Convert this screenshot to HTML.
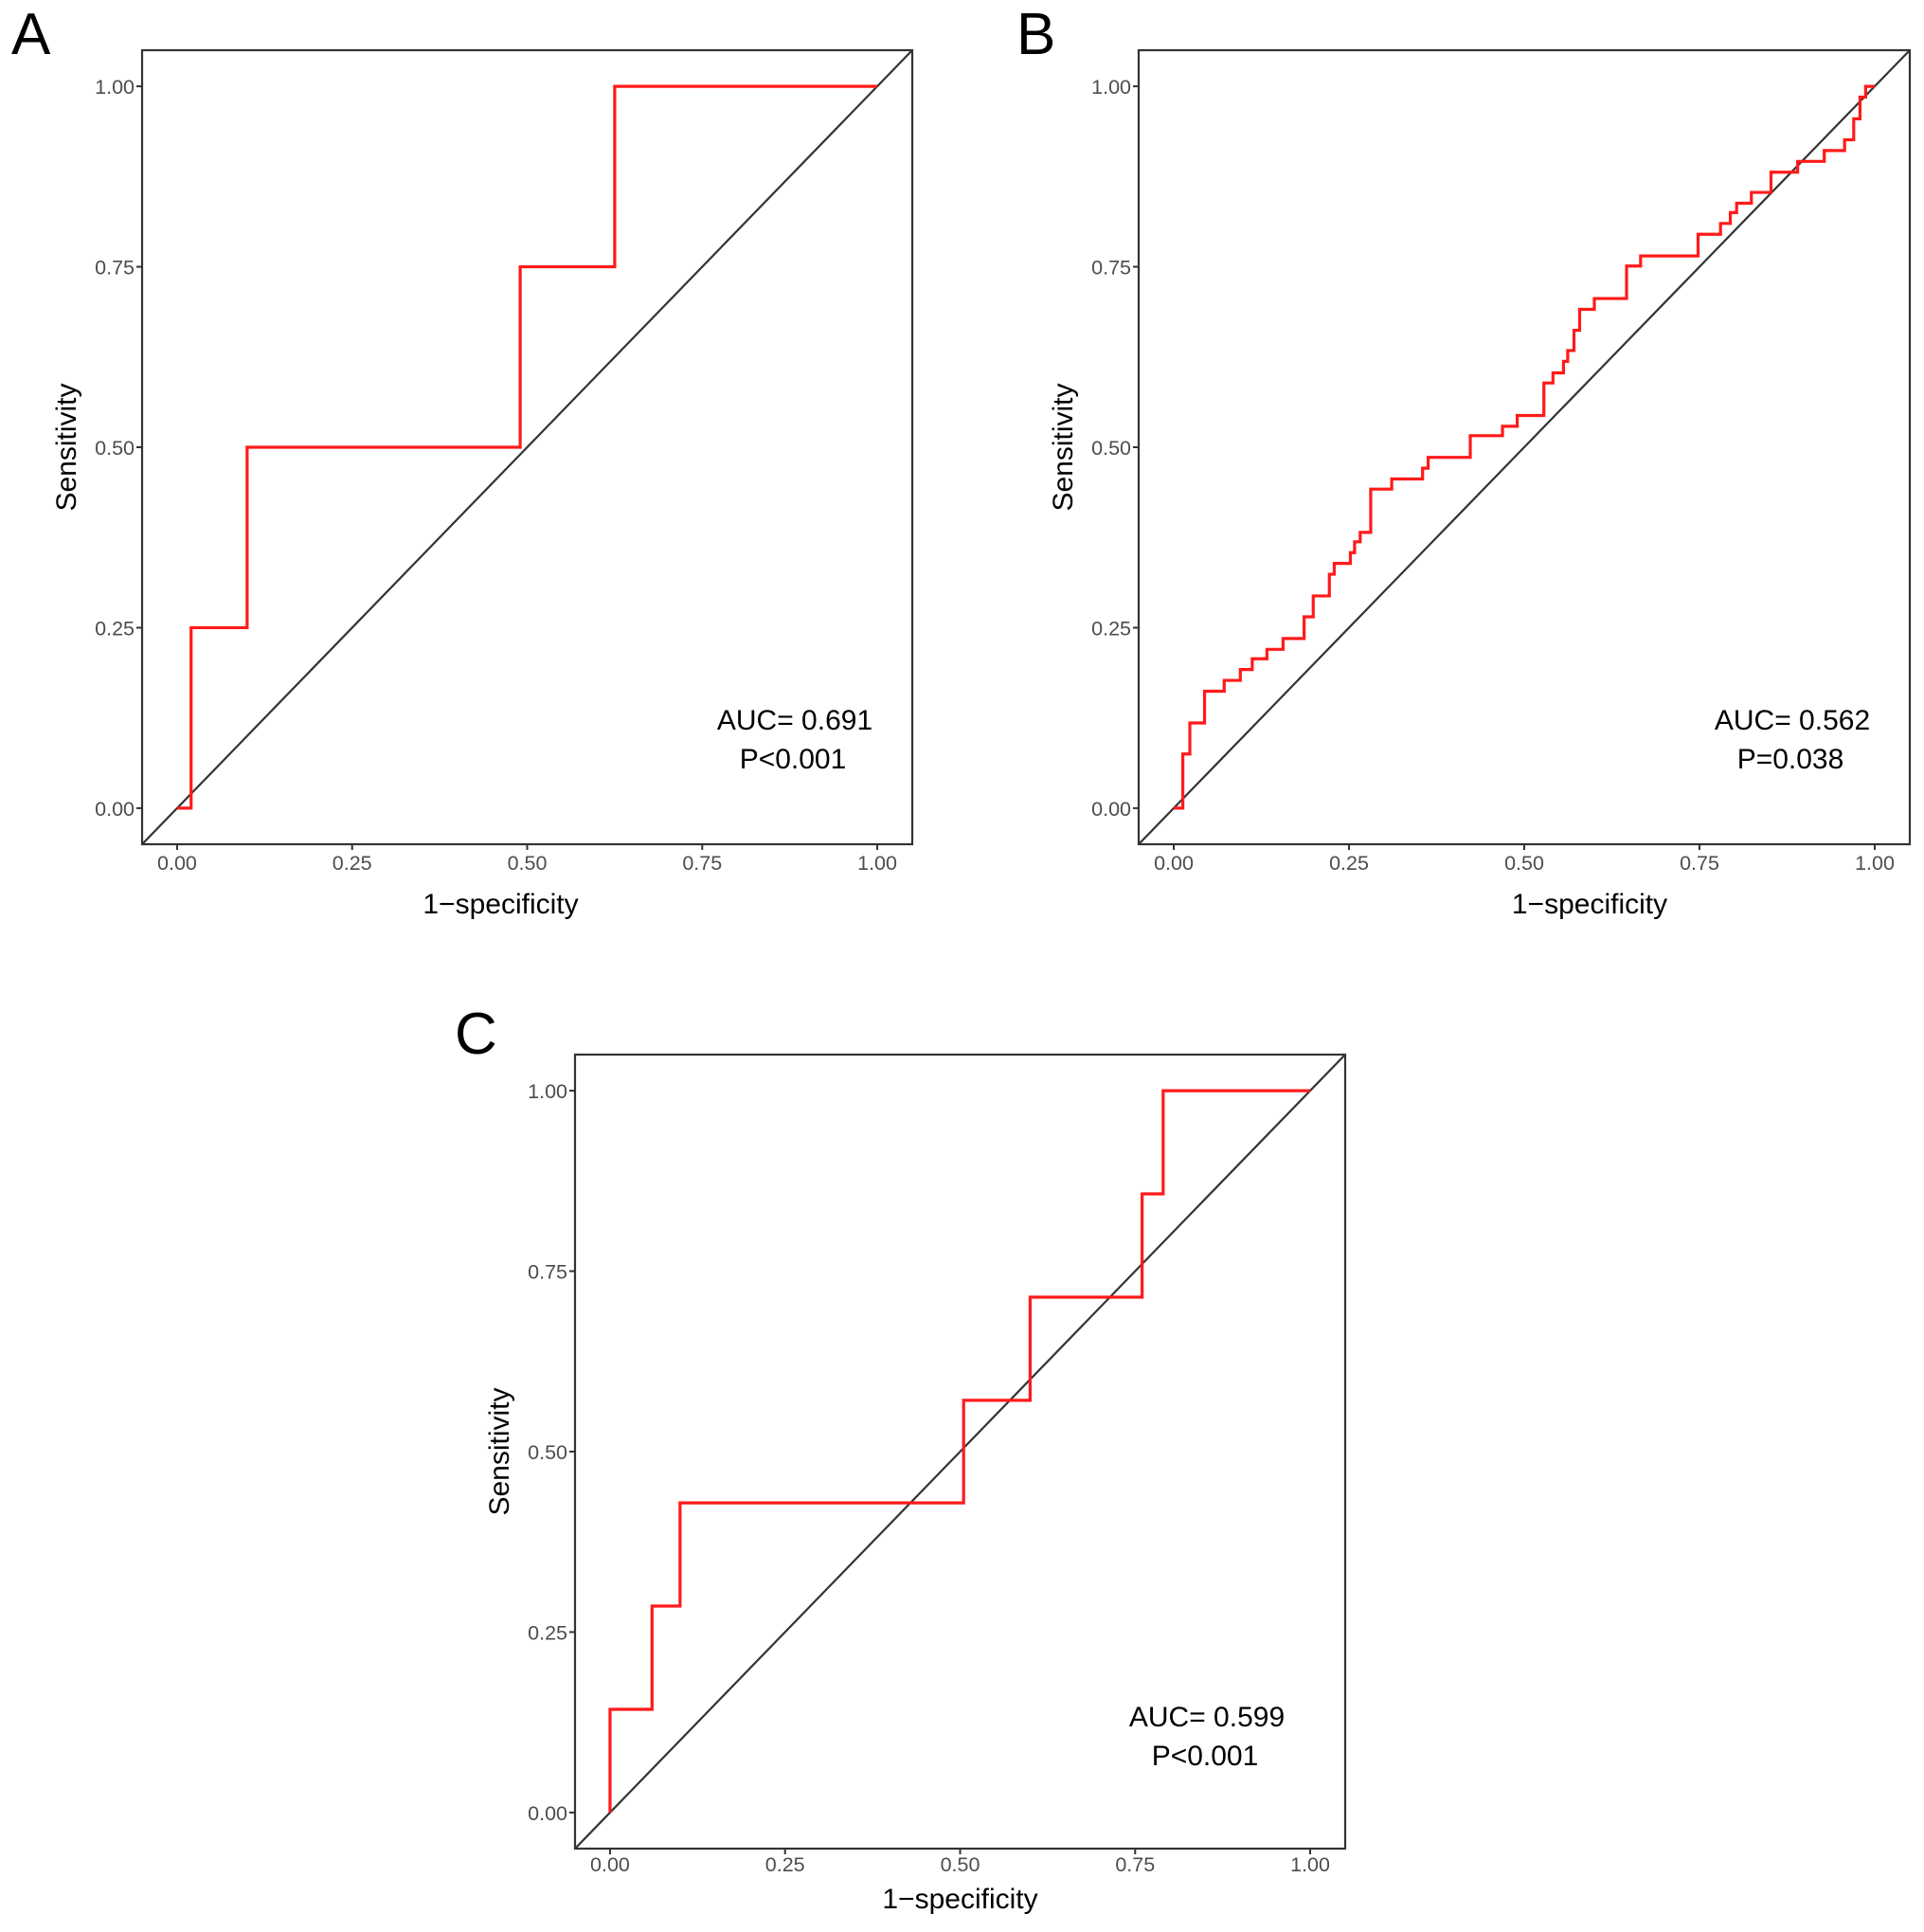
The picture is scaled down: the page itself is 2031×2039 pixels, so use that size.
<!DOCTYPE html>
<html><head><meta charset="utf-8"><style>
html,body{margin:0;padding:0;background:#fff;}
svg{display:block;font-family:"Liberation Sans",Arial,sans-serif;}
</style></head><body>
<svg id="fig" width="2031" height="2039" viewBox="0 0 2031 2039" xmlns="http://www.w3.org/2000/svg"></svg>
<script>
const ticks = [0, 0.25, 0.5, 0.75, 1];
const tickLabels = ["0.00", "0.25", "0.50", "0.75", "1.00"];
const aStepX = [0.02, 0.10, 0.49, 0.625];
const aStepY = [0.25, 0.50, 0.75, 1.00];
const bStepX = [0.013,0.023,0.044,0.072,0.095,0.112,0.133,0.156,0.186,0.199,0.222,0.229,0.252,0.258,0.266,0.281,0.311,0.355,0.363,0.423,0.469,0.490,0.528,0.541,0.556,0.562,0.571,0.579,0.600,0.646,0.666,0.748,0.780,0.794,0.803,0.824,0.852,0.890,0.928,0.957,0.970,0.979,0.987];
const bStepY = [0.075,0.118,0.162,0.177,0.192,0.207,0.220,0.235,0.265,0.294,0.324,0.339,0.354,0.369,0.382,0.442,0.456,0.471,0.486,0.516,0.529,0.544,0.589,0.603,0.619,0.634,0.662,0.691,0.706,0.751,0.765,0.795,0.810,0.825,0.838,0.853,0.881,0.896,0.911,0.926,0.955,0.985,1.000];
const cStepX = [0.0, 0.06, 0.10, 0.505, 0.60, 0.76, 0.79];
const cStepY = [0.143, 0.286, 0.429, 0.571, 0.714, 0.857, 1.0];
const aucLabels = ["AUC= 0.691", "AUC= 0.562", "AUC= 0.599"];
const pLabels = ["P<0.001", "P=0.038", "P<0.001"];
const panelLetters = ["A", "B", "C"];

const NS = "http://www.w3.org/2000/svg";
const svg = document.getElementById("fig");
function mk(tag, attrs, parent, text){
  const e = document.createElementNS(NS, tag);
  for (const k in attrs) e.setAttribute(k, attrs[k]);
  if (text !== undefined) e.textContent = text;
  (parent || svg).appendChild(e);
  return e;
}
function panel(idx, L, T, W, H, sx, sy, letterX, letterY, titleDx, annDx, annDy, xDy){
  const g = mk("g", {});
  
  
  const R = L + W, B = T + H;
  const xs = v => L + (v + 0.05) / 1.1 * W;
  const ys = v => B - (v + 0.05) / 1.1 * H;
  const letter = mk("text", {x: letterX, y: letterY, "font-size": 62, fill: "#000"}, g, panelLetters[idx]);
  
  
  const diag = mk("line", {x1: xs(-0.05), y1: ys(-0.05), x2: xs(1.05), y2: ys(1.05), stroke: "#333", "stroke-width": 2.2}, g);
  
  
  let d = "M" + xs(0) + "," + ys(0);
  for (let i = 0; i < sx.length; i++){
    d += " H" + xs(sx[i]) + " V" + ys(sy[i]);
  }
  d += " H" + xs(1);
  const curve = mk("path", {d: d, fill: "none", stroke: "#ff1a1a", "stroke-width": 3.2}, g);
  
  
  const box = mk("rect", {x: L, y: T, width: W, height: H, fill: "none", stroke: "#333", "stroke-width": 2.2}, g);
  
  
  for (let i = 0; i < ticks.length; i++){
    const tx = xs(ticks[i]);
    const xt = mk("line", {x1: tx, y1: B, x2: tx, y2: B + 6, stroke: "#333", "stroke-width": 2}, g);
    
    
    const xl = mk("text", {x: tx, y: B + 27 + Math.round(xDy / 3), "font-size": 21.5, fill: "#4d4d4d", "text-anchor": "middle"}, g, tickLabels[i]);
    
    
    const ty = ys(ticks[i]);
    const yt = mk("line", {x1: L - 6, y1: ty, x2: L, y2: ty, stroke: "#333", "stroke-width": 2}, g);
    
    
    const yl = mk("text", {x: L - 8, y: ty + 8, "font-size": 21.5, fill: "#4d4d4d", "text-anchor": "end"}, g, tickLabels[i]);
    
    
  }
  const xt = mk("text", {x: (L + R) / 2 + titleDx, y: B + 73 + xDy, "font-size": 30, fill: "#000", "text-anchor": "middle"}, g, "1\u2212specificity");
  
  
  const yx = L - 70, yy = (T + B) / 2;
  const yT = mk("text", {x: yx, y: yy, "font-size": 30, fill: "#000", "text-anchor": "middle", transform: "rotate(-90 " + yx + " " + yy + ")"}, g, "Sensitivity");
  
  
  const a = mk("text", {x: R - 122 + annDx, y: B - 121 + annDy, "font-size": 30, fill: "#000", "text-anchor": "middle"}, g, aucLabels[idx]);
  
  
  const p = mk("text", {x: R - 124 + annDx, y: B - 80 + annDy, "font-size": 30, fill: "#000", "text-anchor": "middle"}, g, pLabels[idx]);
  
  
}
panel(0, 150, 53, 813, 838, aStepX, aStepY, 12, 57, -28, -2, 0, 0);
panel(1, 1202, 53, 814, 838, bStepX, bStepY, 1073, 57, 69, -2, 0, 0);
panel(2, 607, 1113, 813, 838, cStepX, cStepY, 480, 1112, 0, -24, -8, -10);
</script>
</body></html>
